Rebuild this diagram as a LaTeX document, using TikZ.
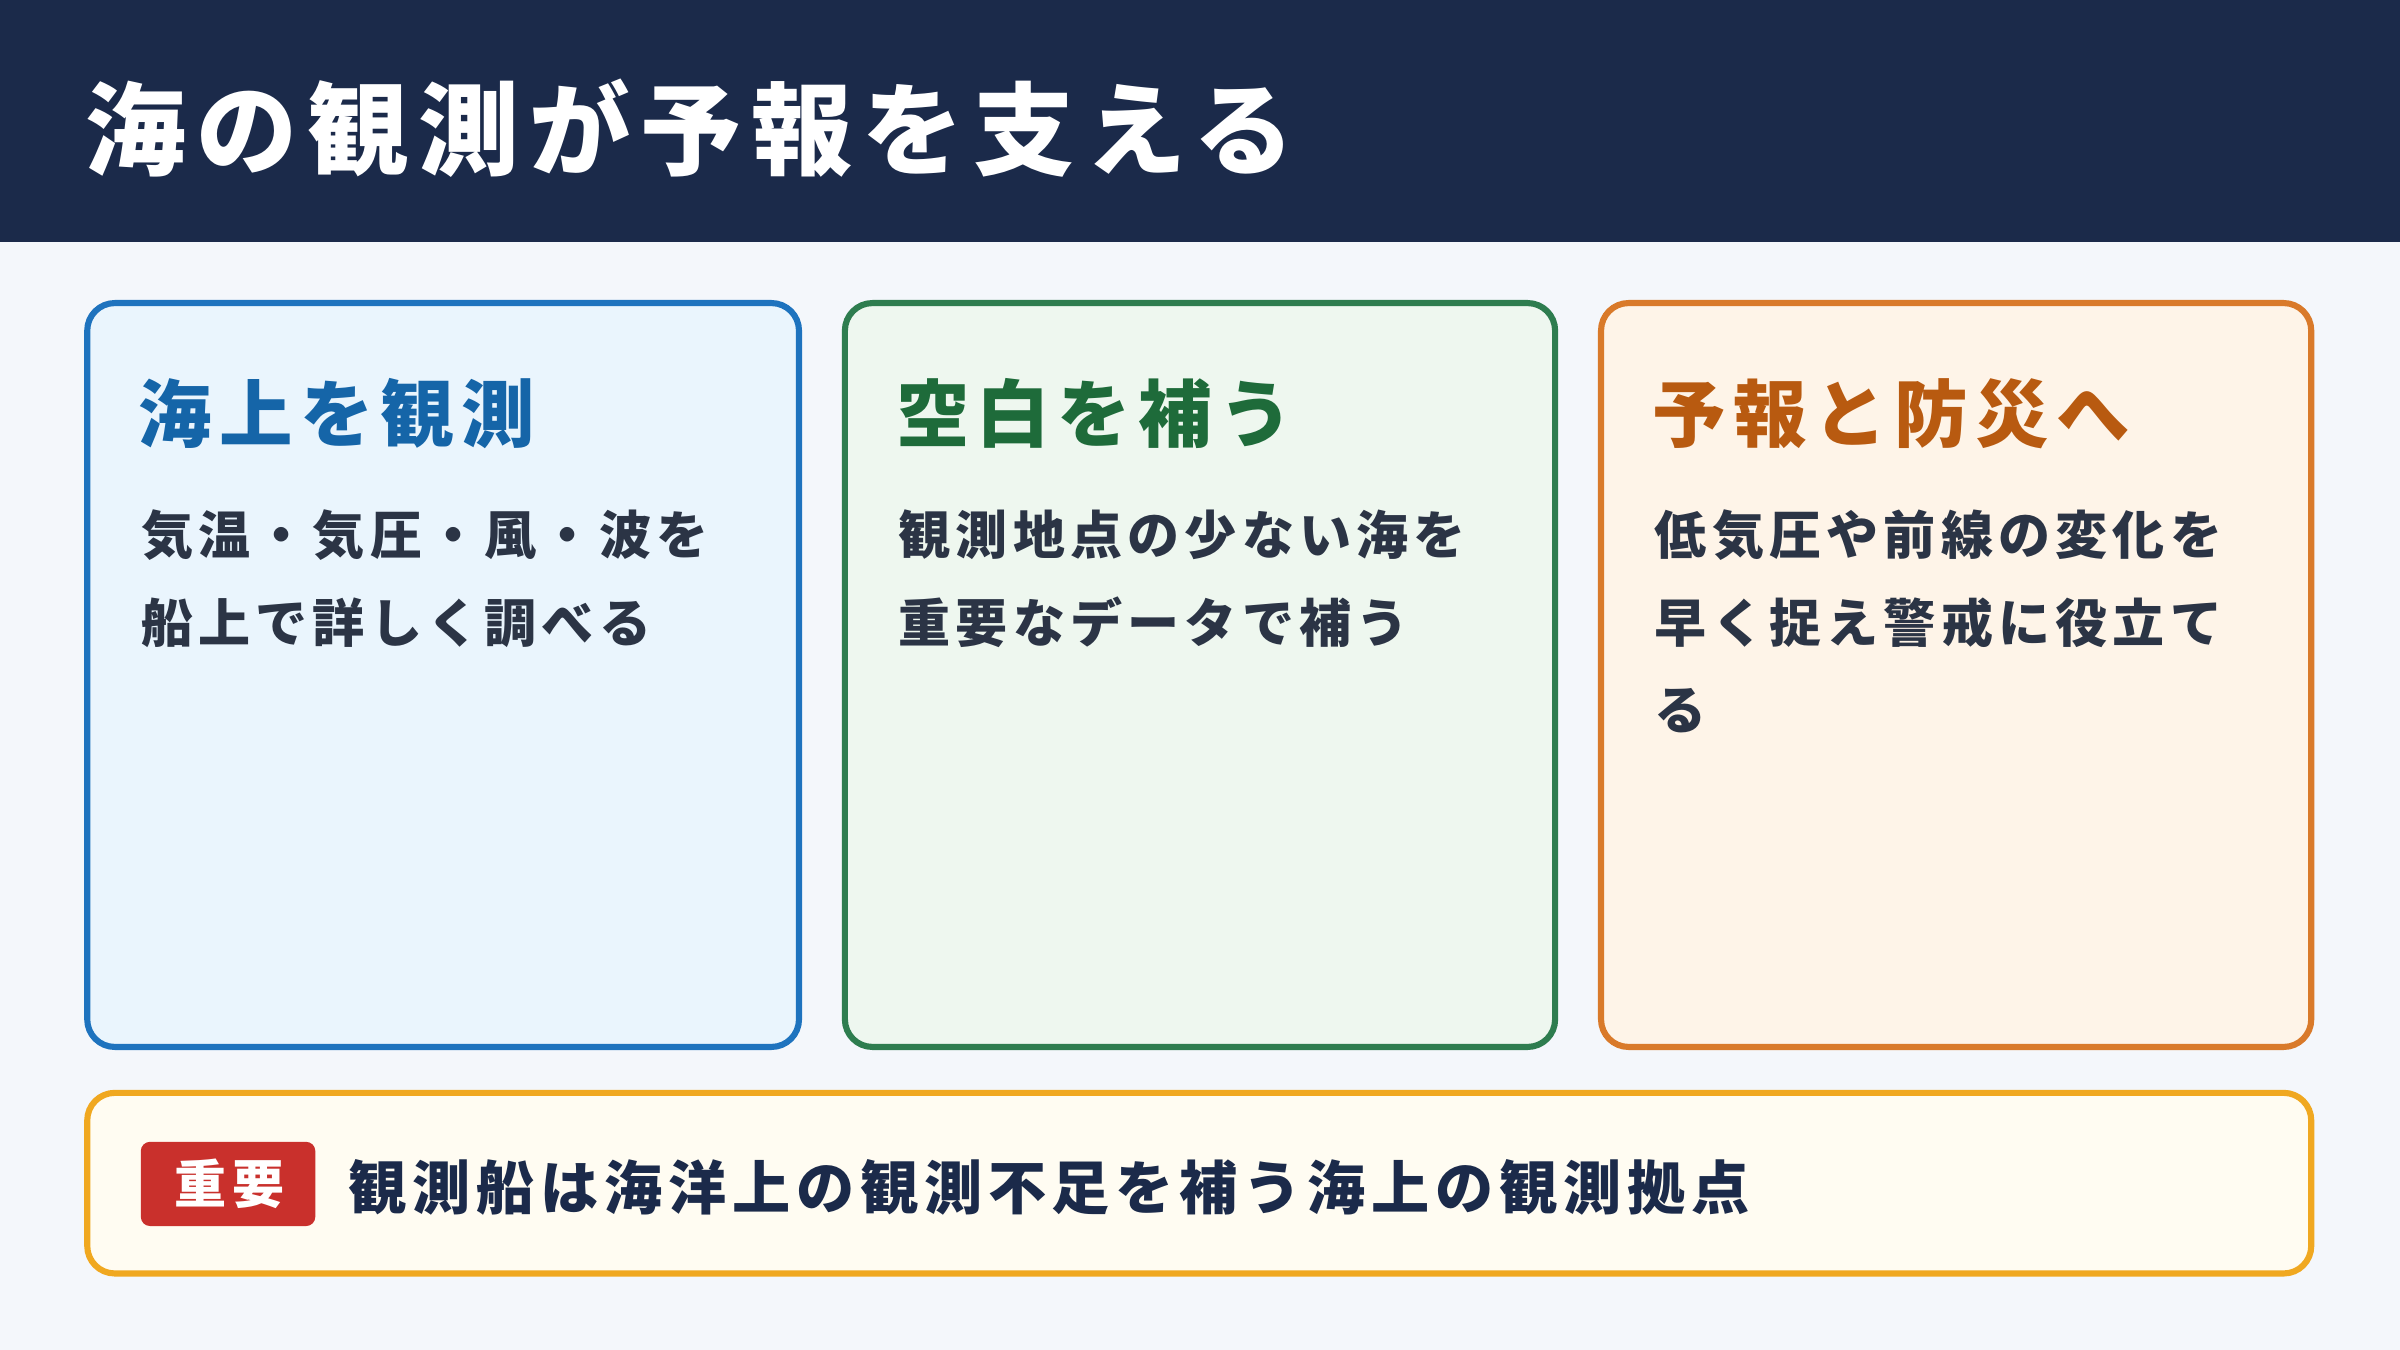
\documentclass[tikz,border=0pt]{standalone}
\usepackage{fontspec}
\setmainfont{Noto Sans CJK JP}[LetterSpace=10]
\definecolor{navy}{HTML}{1B2A4A}
\definecolor{bg}{HTML}{F4F7FB}
\definecolor{bB}{HTML}{1E73BE}\definecolor{fB}{HTML}{EAF5FD}\definecolor{tB}{HTML}{1565A8}
\definecolor{bG}{HTML}{2E7D4F}\definecolor{fG}{HTML}{EEF7EF}\definecolor{tG}{HTML}{1E6B3A}
\definecolor{bO}{HTML}{D97A2A}\definecolor{fO}{HTML}{FEF4E8}\definecolor{tO}{HTML}{B85A10}
\definecolor{bY}{HTML}{F0A820}\definecolor{fY}{HTML}{FFFCF2}
\definecolor{red}{HTML}{C9302C}
\definecolor{body}{HTML}{2B3445}
\begin{document}
\begin{tikzpicture}[x=1pt,y=-1pt,
 card/.style={rounded corners=18pt,line width=4pt},
 ctitle/.style={anchor=west,font=\fontsize{48}{50}\selectfont\bfseries},
 cbody/.style={anchor=north west,align=left,text=body,inner sep=0pt,font=\fontsize{34}{57}\selectfont\bfseries}]
\useasboundingbox (0,0) rectangle (1568,882);
\fill[bg] (0,0) rectangle (1568,882);
\fill[navy] (0,0) rectangle (1568,158);
\node[anchor=west,text=white,font=\fontsize{66}{70}\selectfont\bfseries] (title) at (52,84) {海の観測が予報を支える};
\draw[card,draw=bB,fill=fB] (57,198) rectangle (522,684);
\draw[card,draw=bG,fill=fG] (552,198) rectangle (1016,684);
\draw[card,draw=bO,fill=fO] (1046,198) rectangle (1510,684);
\node[ctitle,text=tB] (t1) at (87,270) {海上を観測};
\node[ctitle,text=tG] (t2) at (582,270) {空白を補う};
\node[ctitle,text=tO] (t3) at (1076,270) {予報と防災へ};
\node[cbody] (b1) at (92,333) {気温・気圧・風・波を\\船上で詳しく調べる};
\node[cbody] (b2) at (587,333) {観測地点の少ない海を\\重要なデータで補う};
\node[cbody] (b3) at (1081,333) {低気圧や前線の変化を\\早く捉え警戒に役立て\\る};
\draw[card,draw=bY,fill=fY] (57,714) rectangle (1510,832);
\fill[red,rounded corners=6pt] (92,746) rectangle (206,801);
\node[text=white,font=\fontsize{34}{38}\selectfont\bfseries] (tag) at (150,773.5) {重要};
\node[anchor=west,text=navy,font=\fontsize{38}{40}\selectfont\bfseries] (msg) at (224,776) {観測船は海洋上の観測不足を補う海上の観測拠点};
\end{tikzpicture}
\end{document}
